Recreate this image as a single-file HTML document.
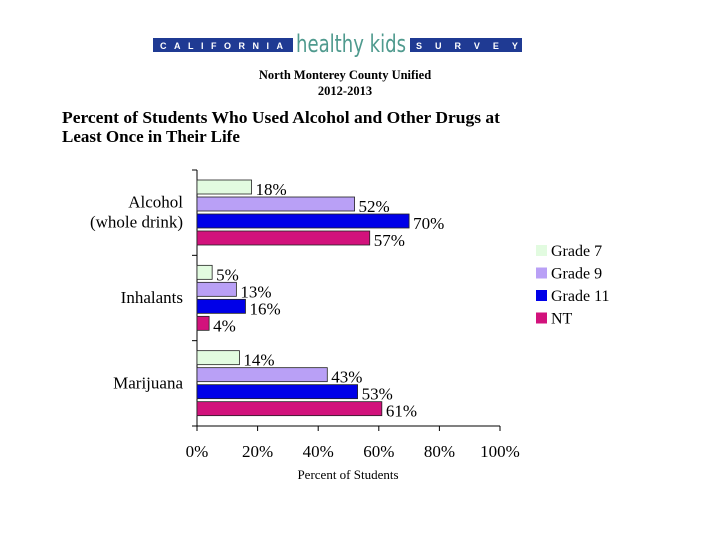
<!DOCTYPE html>
<html><head><meta charset="utf-8"><style>
html,body{margin:0;padding:0;background:#fff;width:720px;height:540px;overflow:hidden}
svg{display:block}
text{font-family:"Liberation Serif",serif}
</style></head><body>
<svg id="chart" width="720" height="540">
  <g>
    <rect x="153" y="38" width="140" height="14" fill="#1f3a93"/>
    <text x="160" y="49" fill="#fff" font-size="9" font-weight="bold" letter-spacing="7.5" style="font-family:'Liberation Sans',sans-serif">CALIFORNIA</text>
    <text x="296" y="52" fill="#4f9a8e" font-size="24" style="font-family:'DejaVu Sans',sans-serif" textLength="110" lengthAdjust="spacingAndGlyphs">healthy kids</text>
    <rect x="410" y="38" width="112" height="14" fill="#1f3a93"/>
    <text x="416" y="49" fill="#fff" font-size="9" font-weight="bold" letter-spacing="13" style="font-family:'Liberation Sans',sans-serif">SURVEY</text>
  </g>
  <text x="345" y="79" text-anchor="middle" font-size="12.5" font-weight="bold">North Monterey County Unified</text>
  <text x="345" y="95" text-anchor="middle" font-size="12.5" font-weight="bold">2012-2013</text>
  <text x="62" y="123" font-size="17" font-weight="bold" textLength="438" lengthAdjust="spacingAndGlyphs">Percent of Students Who Used Alcohol and Other Drugs at</text>
  <text x="62" y="142" font-size="17" font-weight="bold">Least Once in Their Life</text>
  <g id="plot"></g>
  <text x="348" y="479" text-anchor="middle" font-size="13">Percent of Students</text>
</svg>
<script>
const categories = ["Alcohol|(whole drink)", "Inhalants", "Marijuana"];
const seriesNames = ["Grade 7", "Grade 9", "Grade 11", "NT"];
const grade7 = [18, 5, 14];
const grade9 = [52, 13, 43];
const grade11 = [70, 16, 53];
const nt = [57, 4, 61];
const xTicks = [0, 20, 40, 60, 80, 100];

const series = [grade7, grade9, grade11, nt];
const colors = ["#e2fbe0", "#b9a0f6", "#0000e8", "#d2127c"];
const NS = "http://www.w3.org/2000/svg";
const plot = document.getElementById("plot");
const x0 = 197, x1 = 500, yTop = 170, yBot = 426;
const bandH = (yBot - yTop) / categories.length;
const xScale = v => x0 + (v / 100) * (x1 - x0);
function mk(tag, attrs, parent) {
  const e = document.createElementNS(NS, tag);
  for (const k in attrs) e.setAttribute(k, attrs[k]);
  (parent || plot).appendChild(e);
  return e;
}
let ax = mk("line", {x1: x0, y1: yTop, x2: x0, y2: yBot, stroke: "#000"});


let axx = mk("line", {x1: x0, y1: yBot, x2: x1, y2: yBot, stroke: "#000"});


for (let i = 0; i <= categories.length; i++) {
  const y = yTop + i * bandH;
  const t = mk("line", {x1: x0 - 5, y1: y, x2: x0, y2: y, stroke: "#000"});
  
  
}
xTicks.forEach(v => {
  const x = xScale(v);
  const t = mk("line", {x1: x, y1: yBot, x2: x, y2: yBot + 5, stroke: "#000"});
  
  
  const l = mk("text", {x: x, y: yBot + 31, "text-anchor": "middle", "font-size": "17"});
  l.textContent = v + "%";
  
  
});
const barH = 14, pitch = 17, offset = 10;
categories.forEach((c, ci) => {
  const bTop = yTop + ci * bandH;
  const lines = c.split("|");
  const cy = bTop + bandH / 2 + 5;
  lines.forEach((ln, li) => {
    const t = mk("text", {x: 183, y: cy + (li - (lines.length - 1) / 2) * 20, "text-anchor": "end", "font-size": "17"});
    t.textContent = ln;
    
    
  });
  series.forEach((s, si) => {
    const y = bTop + offset + si * pitch;
    const r = mk("rect", {x: x0, y: y, width: xScale(s[ci]) - x0, height: barH, fill: colors[si], stroke: "#222", "stroke-width": "0.8"});
    
    
    const t = mk("text", {x: xScale(s[ci]) + 4, y: y + barH + 1, "font-size": "17"});
    t.textContent = s[ci] + "%";
    
    
  });
});
seriesNames.forEach((n, i) => {
  const y = 245 + i * 22.5;
  const r = mk("rect", {x: 536, y: y, width: 11, height: 11, fill: colors[i]});
  
  
  const t = mk("text", {x: 551, y: y + 11, "font-size": "16"});
  t.textContent = n;
  
  
});
</script>
</body></html>
